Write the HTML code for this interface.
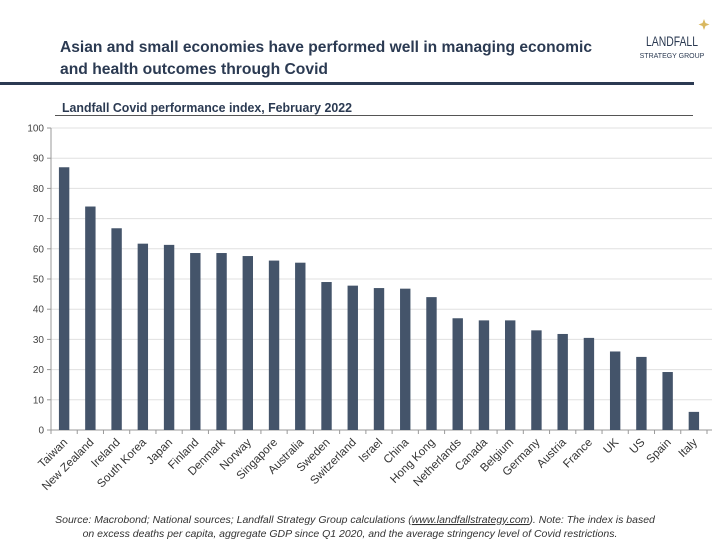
<!DOCTYPE html>
<html><head><meta charset="utf-8"><style>
body{margin:0;background:#fff;}
#wrap{position:relative;width:720px;height:540px;overflow:hidden;font-family:"Liberation Sans",sans-serif;}
</style></head><body>
<div id="wrap">
<svg id="svg" width="720" height="540" xmlns="http://www.w3.org/2000/svg">
<text x="60" y="52" font-size="16" font-weight="bold" fill="#2b3a52" textLength="532" lengthAdjust="spacingAndGlyphs">Asian and small economies have performed well in managing economic</text>
<text x="60" y="74" font-size="16" font-weight="bold" fill="#2b3a52" textLength="268" lengthAdjust="spacingAndGlyphs">and health outcomes through Covid</text>
<text x="672" y="46" font-size="14" fill="#2b3a52" text-anchor="middle" textLength="52" lengthAdjust="spacingAndGlyphs">LANDFALL</text>
<text x="672" y="58" font-size="7" fill="#2b3a52" text-anchor="middle">STRATEGY GROUP</text>
<path d="M704 19 l1.5 4 4 1.5 -4 1.5 -1.5 4 -1.5 -4 -4 -1.5 4 -1.5z" fill="#d9b860"/>
<rect x="0" y="82" width="694" height="3" fill="#2b3a52"/>
<text x="62" y="112" font-size="12.5" font-weight="bold" fill="#2b3a52" textLength="290" lengthAdjust="spacingAndGlyphs">Landfall Covid performance index, February 2022</text>
<rect x="55" y="115" width="638" height="1" fill="#555"/>
<g id="grid"></g><g id="bars"></g><g id="axes"></g>
<text x="355" y="523" font-size="10.5" font-style="italic" fill="#333" text-anchor="middle">Source: Macrobond; National sources; Landfall Strategy Group calculations (<tspan text-decoration="underline">www.landfallstrategy.com</tspan>).  Note: The index is based</text>
<text x="350" y="537" font-size="10.5" font-style="italic" fill="#333" text-anchor="middle">on excess deaths per capita, aggregate GDP since Q1 2020, and the average stringency level of Covid restrictions.</text>
</svg>
</div>
<script>
const categories=["Taiwan","New Zealand","Ireland","South Korea","Japan","Finland","Denmark","Norway","Singapore","Australia","Sweden","Switzerland","Israel","China","Hong Kong","Netherlands","Canada","Belgium","Germany","Austria","France","UK","US","Spain","Italy"];
const values=[87,74,66.8,61.7,61.3,58.6,58.6,57.6,56.1,55.4,49,47.8,47,46.8,44,37,36.3,36.3,33,31.8,30.5,26,24.2,19.2,6];
const yTicks=[0,10,20,30,40,50,60,70,80,90,100];
const NS="http://www.w3.org/2000/svg";
const x0=51,x1=707,y0=430,y1=128;
const step=(x1-x0)/categories.length;
const yScale=v=>y0-(v/100)*(y0-y1);
const xScale=i=>x0+step*(i+0.5);
function mk(t,a,parent){const e=document.createElementNS(NS,t);for(const k in a)e.setAttribute(k,a[k]);document.getElementById(parent).appendChild(e);return e;}
yTicks.forEach(t=>{
  const g=mk('line',{x1:x0,x2:712,y1:yScale(t),y2:yScale(t),stroke:t===0?'#999':'#e0e0e0','stroke-width':1},'grid');
  
  
  const tk=mk('line',{x1:x0-4,x2:x0,y1:yScale(t),y2:yScale(t),stroke:'#999'},'axes');
  
  
  const lb=mk('text',{x:x0-7,y:yScale(t)+3.5,'font-size':10,fill:'#444','text-anchor':'end'},'axes');
  lb.textContent=t;
  
  
});
const ya=mk('line',{x1:x0,x2:x0,y1:y1,y2:y0,stroke:'#999'},'axes');


for(let i=0;i<=categories.length;i++){
  const tk=mk('line',{x1:x0+step*i,x2:x0+step*i,y1:y0,y2:y0+4,stroke:'#999'},'axes');
  
  
}
categories.forEach((c,i)=>{
  const cx=xScale(i),v=values[i];
  const b=mk('rect',{x:cx-5.2,y:yScale(v),width:10.4,height:y0-yScale(v),fill:'#44546a'},'bars');
  
  
  const t=mk('text',{x:cx+4,y:y0+13,'font-size':11.5,fill:'#333','text-anchor':'end',transform:`rotate(-45 ${cx+4} ${y0+13})`},'axes');
  t.textContent=c;
  
  
});
</script>
</body></html>
